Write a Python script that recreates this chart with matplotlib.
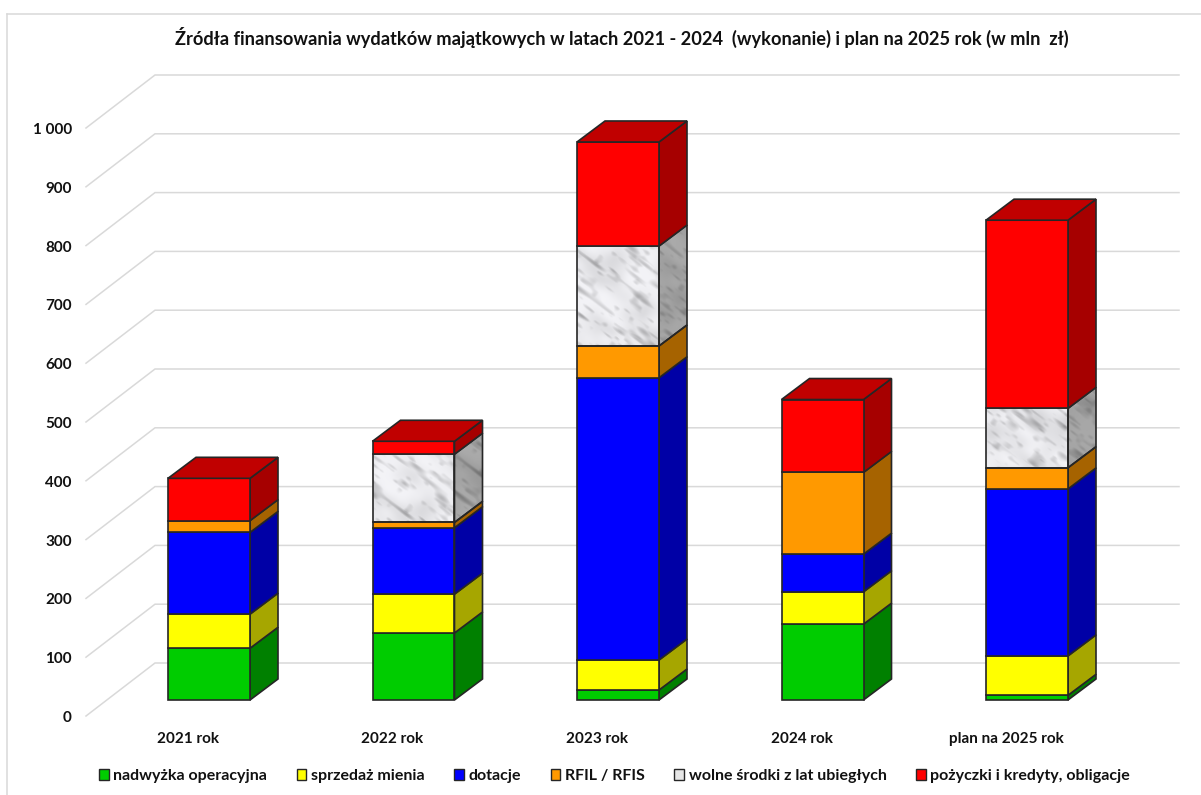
import numpy as np
import matplotlib
matplotlib.use("Agg")
import matplotlib.pyplot as plt
from matplotlib.patches import Polygon, Patch

plt.rcParams['font.family'] = ['Lato', 'DejaVu Sans']
plt.rcParams['font.weight'] = 'bold'

categories = ['2021 rok', '2022 rok', '2023 rok', '2024 rok', 'plan na 2025 rok']
nadwyzka = [88, 114, 17, 129, 8]
sprzedaz = [58, 66, 51, 55, 67]
dotacje = [139, 113, 480, 64, 284]
rfil = [20, 9, 54, 139, 36]
wolne = [0, 116, 170, 0, 101]
pozyczki = [72, 22, 177, 124, 320]

series_names = ['nadwyżka operacyjna', 'sprzedaż mienia', 'dotacje', 'RFIL / RFIS',
                'wolne środki z lat ubiegłych', 'pożyczki i kredyty, obligacje']
series = [nadwyzka, sprzedaz, dotacje, rfil, wolne, pozyczki]
colors = ['#00CC00', '#FFFF00', '#0000FF', '#FF9900', 'marble', '#FF0000']
side_colors = ['#008000', '#A6A600', '#0000A6', '#A66300', 'marble', '#A60000']
top_color = '#C00000'
y_ticks = [0, 100, 200, 300, 400, 500, 600, 700, 800, 900, 1000]
y_tick_labels = ['0', '100', '200', '300', '400', '500', '600', '700', '800', '900', '1 000']

W, H = 1201, 795
PX_X = 204.5    # pixels per category
PX_Y = 0.588    # pixels per unit
X0 = 209        # first bar centre
Y0 = 700        # bar baseline
BAR = 82 / PX_X
DX = 28 / PX_X  # bar depth
DY = 21 / PX_Y
EDGE = '#262626'


def lattice(i, j):
    s = np.sin(i * 12.9898 + j * 78.233) * 43758.5453
    return s - np.floor(s)


def vnoise(x, y):
    # smooth value noise on a hashed lattice
    i, j = np.floor(x), np.floor(y)
    fx, fy = x - i, y - j
    fx = fx * fx * (3 - 2 * fx)
    fy = fy * fy * (3 - 2 * fy)
    top = lattice(i, j) * (1 - fx) + lattice(i + 1, j) * fx
    bot = lattice(i, j + 1) * (1 - fx) + lattice(i + 1, j + 1) * fx
    return top * (1 - fy) + bot * fy


def marble(n, m, phase):
    # white stone with soft grey streaks running down to the right
    yy, xx = np.mgrid[0:n, 0:m].astype(float)
    u = xx * 0.8 + yy * 0.6 + phase
    v = -xx * 0.6 + yy * 0.8 + phase * 0.7
    long_veins = vnoise(u / 20, v / 5)
    short_veins = vnoise(u / 9, v / 3.5 + 9)
    cloud = vnoise(u / 28, v / 20 + 4) * vnoise(u / 14 + 3, v / 11)
    g = 0.955 - 0.6 * np.clip(long_veins - 0.62, 0, 1) - 0.4 * np.clip(short_veins - 0.66, 0, 1) - 0.16 * cloud
    return np.clip(g, 0, 1)


fig = plt.figure(figsize=(W / 100, H / 100), dpi=100)
ax = fig.add_axes([0, 0, 1, 1])
ax.axis('off')
xlim = (-X0 / PX_X, (W - X0) / PX_X)
ylim = ((Y0 - H) / PX_Y, Y0 / PX_Y)

# chart border
ax.plot([(7.5 - X0) / PX_X] * 2, [ylim[0], (Y0 - 13.5) / PX_Y], color='#D9D9D9', lw=1.1, zorder=1)
ax.plot([(7.5 - X0) / PX_X, xlim[1]], [(Y0 - 13.5) / PX_Y] * 2, color='#D9D9D9', lw=1.1, zorder=1)

# gridlines, front end then back wall
front_x = (86 - X0) / PX_X
back_x = (155 - X0) / PX_X
end_x = (1179 - X0) / PX_X
front_off = -16 / PX_Y
back_off = 37 / PX_Y
for t, lab in zip(y_ticks, y_tick_labels):
    ax.plot([front_x, back_x, end_x], [t + front_off, t + back_off, t + back_off],
            color='#D9D9D9', lw=1.1, zorder=1, solid_joinstyle='miter')
    ax.text((72 - X0) / PX_X, t + front_off - 2 / PX_Y, lab, ha='right', va='center',
            fontsize=11, color='#111111')

for i, cat in enumerate(categories):
    left = i - BAR / 2
    right = i + BAR / 2
    base = 0
    for j, vals in enumerate(series):
        v = vals[i]
        if v == 0:
            continue
        top = base + v
        front = [(left, base), (right, base), (right, top), (left, top)]
        side = [(right, base), (right + DX, base + DY), (right + DX, top + DY), (right, top)]
        if colors[j] == 'marble':
            fp = Polygon(front, closed=True, fc='none', ec=EDGE, lw=1.2, zorder=4)
            sp = Polygon(side, closed=True, fc='none', ec=EDGE, lw=1.2, zorder=4)
            ax.add_patch(fp)
            ax.add_patch(sp)
            tex = marble(int(v * PX_Y) + 2, 84, i * 37.0)
            im = ax.imshow(np.dstack([tex, tex, tex * 1.015]).clip(0, 1), extent=(left, right, base, top),
                           aspect='auto', zorder=3, interpolation='bilinear')
            im.set_clip_path(fp)
            tex2 = marble(int((v + DY) * PX_Y) + 2, 30, i * 53.0) * 0.7
            im2 = ax.imshow(np.dstack([tex2, tex2, tex2]), extent=(right, right + DX, base, top + DY),
                            aspect='auto', zorder=3, interpolation='bilinear')
            im2.set_clip_path(sp)
        else:
            ax.add_patch(Polygon(side, closed=True, fc=side_colors[j], ec=EDGE, lw=1.2, zorder=4))
            ax.add_patch(Polygon(front, closed=True, fc=colors[j], ec=EDGE, lw=1.2, zorder=4))
        base = top
    lid = [(left, base), (right, base), (right + DX, base + DY), (left + DX, base + DY)]
    ax.add_patch(Polygon(lid, closed=True, fc=top_color, ec=EDGE, lw=1.2, zorder=4))
    ax.text(i - 21 / PX_X, (Y0 - 739) / PX_Y, cat, ha='center', va='center', fontsize=11, color='#111111')

ax.set_xlim(*xlim)
ax.set_ylim(*ylim)

ax.text((621.5 - X0) / PX_X, (Y0 - 37) / PX_Y,
        'Źródła finansowania wydatków majątkowych w latach 2021 - 2024  (wykonanie) i plan na 2025 rok (w mln  zł)',
        ha='center', va='center', fontsize=13.15, color='#111111')

handles = []
for c, name in zip(colors, series_names):
    handles.append(Patch(fc='#E6E6E6' if c == 'marble' else c, ec=EDGE, lw=1, label=name))
ax.legend(handles=handles, ncols=6, loc='center', bbox_to_anchor=(614.5 / W, 1 - 776 / H),
          frameon=False, fontsize=11.5, handlelength=0.62, handleheight=0.62, handletextpad=0.28,
          columnspacing=1.85, labelcolor='#111111')

fig.savefig('out.png', dpi=100)
